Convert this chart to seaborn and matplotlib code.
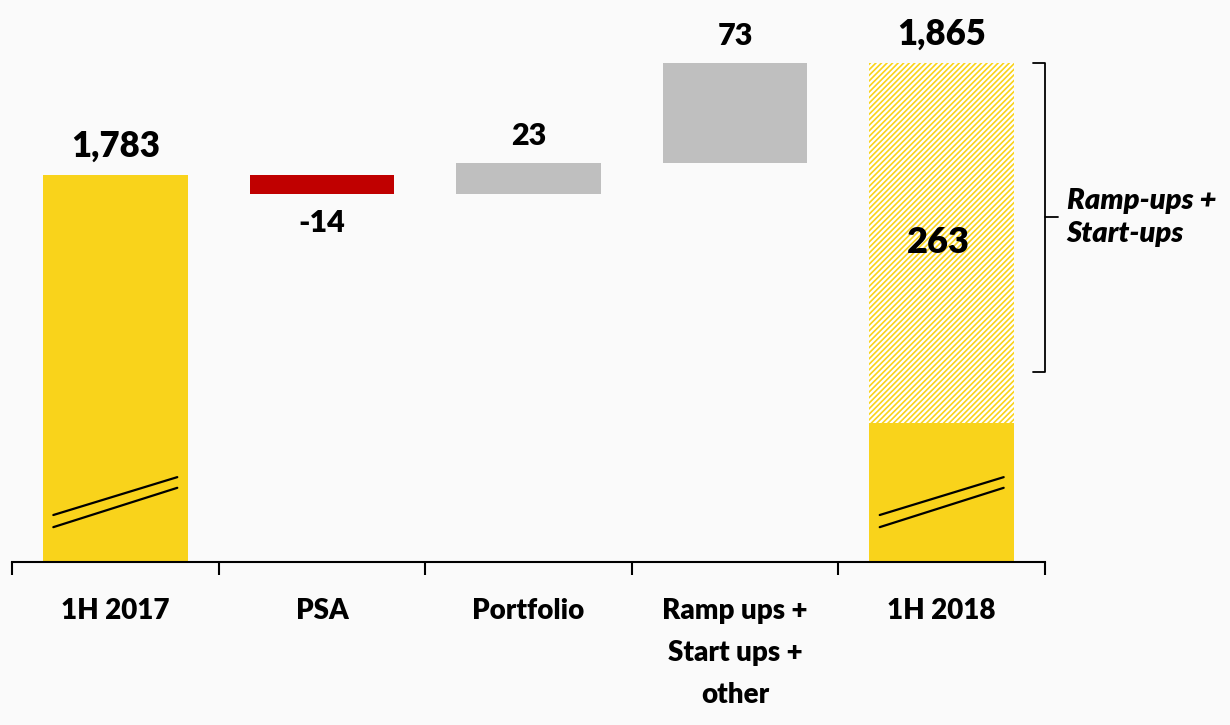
import numpy as np
import pandas as pd
import matplotlib
matplotlib.use("Agg")
import matplotlib.pyplot as plt
import seaborn as sns

# === Data ===
categories = ["1H 2017", "PSA", "Portfolio", "Ramp ups +\nStart ups +\nother", "1H 2018"]
changes = [1783, -14, 23, 73, 1865]          # first/last are totals
is_total = [True, False, False, False, True]
bar_labels = ["1,783", "-14", "23", "73", "1,865"]
rampup_part = 263                            # part of 1H 2018 from ramp-ups + start-ups
rampup_label = "263"
bracket_text = "Ramp-ups +\nStart-ups"

axis_min = 1500                               # broken axis start
axis_max = 1911

YELLOW = "#F9D31B"
RED = "#C00000"
GREY = "#BFBFBF"
W = "heavy"

# === Waterfall geometry ===
bottoms, heights = [], []
running = 0
for val, tot in zip(changes, is_total):
    if tot:
        bottoms.append(axis_min)
        heights.append(val - axis_min)
        running = val
    else:
        lo = min(running, running + val)
        bottoms.append(lo)
        heights.append(abs(val))
        running += val

df = pd.DataFrame({"category": categories, "height": heights})

sns.set_theme(style="white")
plt.rcParams["font.family"] = ["Lato", "DejaVu Sans"]
plt.rcParams["hatch.linewidth"] = 1.2
plt.rcParams["text.color"] = "black"
plt.rcParams["xtick.color"] = "black"
plt.rcParams["xtick.labelcolor"] = "black"

fig = plt.figure(figsize=(12.3, 7.25), dpi=100)
fig.patch.set_facecolor("#fafafa")
ax = fig.add_axes([12 / 1230, 1 - 562 / 725, (1045 - 12) / 1230, 562 / 725])
ax.set_facecolor("none")

sns.barplot(data=df, x="category", y="height", order=categories, width=0.7,
            bottom=bottoms, color=GREY, linewidth=0, ax=ax)

colors = []
for val, tot in zip(changes, is_total):
    colors.append(YELLOW if tot else (RED if val < 0 else GREY))
for patch, c in zip(ax.patches, colors):
    patch.set_facecolor(c)
    patch.set_edgecolor(c)

# hatched ramp-up share of the 1H 2018 bar
last = ax.patches[4]
last.set_facecolor("white")
last.set_edgecolor(YELLOW)
last.set_hatch("//////")
last.set_linewidth(0)
solid_top = changes[4] - rampup_part
ax.bar(4, solid_top - axis_min, bottom=axis_min, width=0.7, color=YELLOW, linewidth=0)

# value labels
for i, (val, tot, lab) in enumerate(zip(changes, is_total, bar_labels)):
    top = bottoms[i] + heights[i]
    size = 25 if tot else 22
    if val < 0:
        ax.annotate(lab, (i, bottoms[i]), xytext=(0, -11), textcoords="offset points",
                    ha="center", va="top", fontsize=size, fontweight=W)
    else:
        ax.annotate(lab, (i, top), xytext=(0, 13), textcoords="offset points",
                    ha="center", va="baseline", fontsize=size, fontweight=W)

ax.text(3.985, (solid_top + changes[4]) / 2, rampup_label, ha="center", va="center",
        fontsize=26, fontweight=W)

# axis break marks
tr = ax.get_xaxis_transform()
for i in [0, 4]:
    ax.plot([i - 0.3, i + 0.3], [0.0836, 0.151], transform=tr, color="black", lw=1.6)
    ax.plot([i - 0.3, i + 0.3], [0.062, 0.132], transform=tr, color="black", lw=1.6)

# bracket on the right
b_top, b_bot = changes[4], 1639
bx = 4.5
ax.plot([bx - 0.058, bx, bx, bx - 0.058], [b_top, b_top, b_bot, b_bot],
        color="black", lw=1.3, clip_on=False)
ax.plot([bx, bx + 0.062], [(b_top + b_bot) / 2] * 2, color="black", lw=1.3, clip_on=False)
ax.text(bx + 0.105, (b_top + b_bot) / 2, bracket_text, ha="left", va="center",
        fontsize=21, fontweight=W, fontstyle="italic", linespacing=1.3, clip_on=False)

# axes styling
ax.set_xlim(-0.5, 4.5)
ax.set_ylim(axis_min, axis_max)
ax.set_yticks([])
ax.set_xlabel("")
ax.set_ylabel("")
for s in ["left", "right", "top"]:
    ax.spines[s].set_visible(False)
ax.spines["bottom"].set_color("black")
ax.spines["bottom"].set_linewidth(1.5)
ax.set_xticks(range(len(categories)))
ax.set_xticklabels(categories, fontsize=20, fontweight=W, linespacing=1.75)
ax.set_xticks(np.arange(-0.5, len(categories), 1), minor=True)
ax.tick_params(axis="x", which="major", length=0, pad=26, bottom=True)
ax.tick_params(axis="x", which="minor", length=9.5, width=1.5, color="black",
               direction="out", bottom=True)

fig.savefig("out.png", dpi=100, facecolor=fig.get_facecolor())
